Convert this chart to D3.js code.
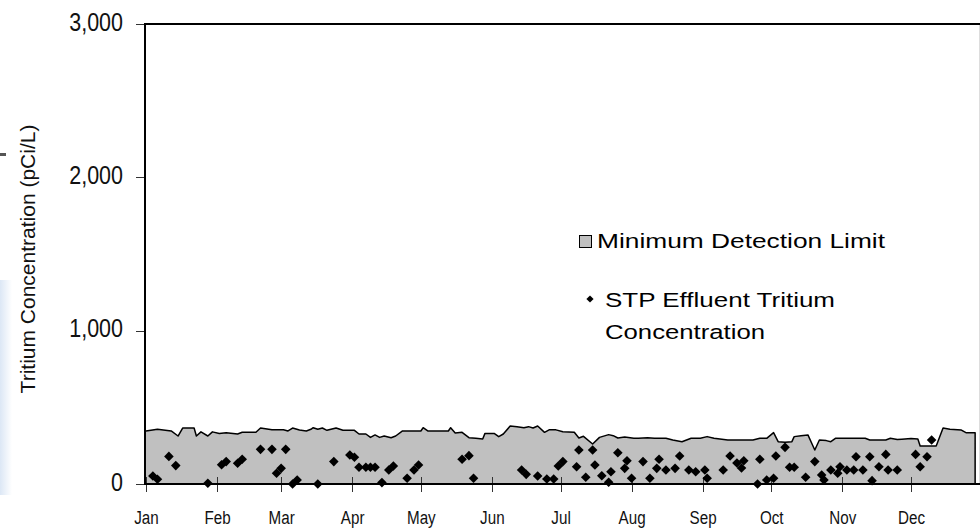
<!DOCTYPE html>
<meta charset="utf-8">
<style>
body { margin: 0; background: #fff; }
svg { display: block; font-family: "Liberation Sans", Arial, sans-serif; }
.axis path { display: none; }
.axis line { stroke: #333; shape-rendering: crispEdges; }
.axis text { fill: #111; }
</style>
<body>
<script src="https://cdn.jsdelivr.net/npm/d3@7"></script>
<script>

// minimum detection limit, day of year -> pCi/L
var mdlDays = [0,5,11,14,16,21,22,24,27,29,32,35,40,42,48,50,55,60,62,64,
  67,70,72,73,75,77,79,83,86,91,93,96,98,100,102,104,107,109,112,120,
  121,123,132,133,135,138,141,144,147,148,152,154,156,159,162,165,167,169,171,174,
  176,179,182,187,189,191,195,198,202,204,206,209,213,215,219,222,227,230,234,238,
  242,245,248,254,265,268,271,274,276,279,282,283,286,289,291,292,294,297,299,301,
  314,316,323,325,328,330,334,337,338,345,346,348,351,356,358,362];
var mdlValues = [346,357,346,313,365,365,313,340,313,340,330,335,326,337,337,365,354,354,346,365,
  352,346,357,367,357,365,350,365,350,350,326,326,304,320,304,313,302,313,346,346,
  367,346,346,367,332,337,302,298,293,330,330,309,326,378,374,367,374,365,378,337,
  353,353,341,337,300,311,261,304,322,315,300,306,298,298,302,298,298,287,276,298,
  298,309,298,287,287,298,298,335,276,272,276,309,315,320,254,222,287,283,276,298,
  298,287,287,298,290,292,296,294,248,248,287,365,357,352,335,335];

// STP effluent samples
var sampleDays = [3,5,10,13,27,33,35,40,42,50,55,61,57,59,64,66,75,82,89,91,
  93,96,98,100,103,106,108,114,117,119,138,141,143,164,166,171,175,178,180,182,
  188,189,195,192,196,199,202,203,206,209,210,212,217,220,223,224,227,231,233,237,
  240,244,245,252,255,258,260,261,267,271,274,268,275,279,281,283,288,292,295,296,
  299,302,303,306,309,310,313,316,317,320,323,324,328,336,341,338,343];
var sampleValues = [52,31,180,120,5,126,146,135,161,226,226,226,70,102,0,26,0,146,189,174,
  109,109,109,109,9,91,117,37,91,124,161,185,37,91,63,52,33,33,117,146,
  113,222,222,44,124,54,11,80,204,102,152,37,146,37,102,161,91,102,183,91,
  80,91,37,91,183,137,104,152,0,26,37,161,183,239,109,109,44,146,59,26,
  91,70,113,91,91,178,91,178,22,113,193,91,91,193,178,113,287];

var monthNames = ["Jan","Feb","Mar","Apr","May","Jun","Jul","Aug","Sep","Oct","Nov","Dec"];
var yTicks = [0, 1000, 2000, 3000];

var width = 980, height = 529;
var start = new Date(2001, 0, 1);
function dayDate(d) { return d3.timeDay.offset(start, d); }

var x = d3.scaleTime()
    .domain([start, new Date(2002, 0, 1)])
    .range([146, 982]);
var y = d3.scaleLinear()
    .domain([0, 3000])
    .range([484, 24]);

var svg = d3.select("body").append("svg")
    .attr("width", width)
    .attr("height", height);

// faint strip on the left edge
var grad = svg.append("defs").append("linearGradient")
    .attr("id", "edge").attr("x1", 0).attr("x2", 1);
grad.append("stop").attr("offset", 0).attr("stop-color", "#dce7f5");
grad.append("stop").attr("offset", 1).attr("stop-color", "#fff");
svg.append("rect").attr("x", 0).attr("y", 280).attr("width", 12).attr("height", 215)
    .attr("fill", "url(#edge)");
svg.append("rect").attr("x", 0).attr("y", 153).attr("width", 6).attr("height", 3)
    .attr("fill", "#555");

// plot frame: top border and faint right edge
svg.append("line").attr("x1", 145).attr("x2", 980).attr("y1", 24).attr("y2", 24)
    .attr("stroke", "#000").attr("stroke-width", 2);
svg.append("line").attr("x1", 979.5).attr("x2", 979.5).attr("y1", 25).attr("y2", 484)
    .attr("stroke", "#ddd");

var mdl = mdlDays.map(function(d, i) { return { date: dayDate(d), value: mdlValues[i] }; });

svg.append("path")
    .datum(mdl)
    .attr("fill", "#c0c0c0")
    .attr("d", d3.area()
      .x(function(d) { return x(d.date); })
      .y0(y(0))
      .y1(function(d) { return y(d.value); }));

var last = mdl[mdl.length - 1];
svg.append("path")
    .datum(mdl.concat([{ date: last.date, value: 0 }]))
    .attr("fill", "none")
    .attr("stroke", "#000")
    .attr("stroke-width", 1.5)
    .attr("stroke-linejoin", "round")
    .attr("d", d3.line()
      .x(function(d) { return x(d.date); })
      .y(function(d) { return y(d.value); }));

// axes
var xAxis = svg.append("g")
    .attr("class", "axis")
    .attr("transform", "translate(0,484)")
    .call(d3.axisBottom(x)
      .ticks(d3.timeMonth.every(1))
      .tickSize(8)
      .tickFormat(function(d) { return monthNames[d.getMonth()]; }));
xAxis.selectAll(".tick").filter(function(d) { return d >= new Date(2002, 0, 1); }).remove();
xAxis.selectAll(".tick line").attr("y1", -7);
xAxis.selectAll(".tick text")
    .attr("y", 0).attr("dy", 0)
    .attr("font-size", 19)
    .attr("transform", "translate(0,40) scale(0.8,1)");

var yAxis = svg.append("g")
    .attr("class", "axis")
    .attr("transform", "translate(145,0)")
    .call(d3.axisLeft(y)
      .tickValues(yTicks)
      .tickSize(9)
      .tickPadding(13)
      .tickFormat(d3.format(",")));
yAxis.selectAll(".tick text")
    .attr("font-size", 25)
    .attr("x", -22 / 0.86)
    .attr("dy", "0.24em")
    .attr("transform", "scale(0.86,1)");

svg.append("line").attr("x1", 145).attr("x2", 145).attr("y1", 23).attr("y2", 485)
    .attr("stroke", "#000").attr("stroke-width", 2);
svg.append("line").attr("x1", 144).attr("x2", 980).attr("y1", 484).attr("y2", 484)
    .attr("stroke", "#000").attr("stroke-width", 2);

// samples
var diamond = d3.symbol().type(d3.symbolSquare).size(46);
svg.append("g").selectAll("path")
    .data(sampleDays)
    .join("path")
    .attr("transform", function(d, i) {
      return "translate(" + x(dayDate(d)) + "," + y(sampleValues[i]) + ") rotate(45)";
    })
    .attr("d", diamond)
    .attr("fill", "#000");

svg.append("text")
    .attr("transform", "translate(35,259) rotate(-90)")
    .attr("text-anchor", "middle")
    .attr("font-size", 21)
    .attr("fill", "#111")
    .text("Tritium Concentration (pCi/L)");

// legend
var legend = svg.append("g");
legend.append("rect")
    .attr("x", 579.5).attr("y", 235.5).attr("width", 12).attr("height", 12)
    .attr("fill", "#c0c0c0").attr("stroke", "#000");
legend.append("text")
    .attr("x", 597).attr("y", 248)
    .attr("font-size", 20.5)
    .attr("textLength", 288).attr("lengthAdjust", "spacingAndGlyphs")
    .text("Minimum Detection Limit");
legend.append("path")
    .attr("transform", "translate(590,299) rotate(45)")
    .attr("d", d3.symbol().type(d3.symbolSquare).size(26));
legend.append("text")
    .attr("x", 605).attr("y", 307)
    .attr("font-size", 20.5)
    .attr("textLength", 230).attr("lengthAdjust", "spacingAndGlyphs")
    .text("STP Effluent Tritium");
legend.append("text")
    .attr("x", 605).attr("y", 339)
    .attr("font-size", 20.5)
    .attr("textLength", 160).attr("lengthAdjust", "spacingAndGlyphs")
    .text("Concentration");

</script>
